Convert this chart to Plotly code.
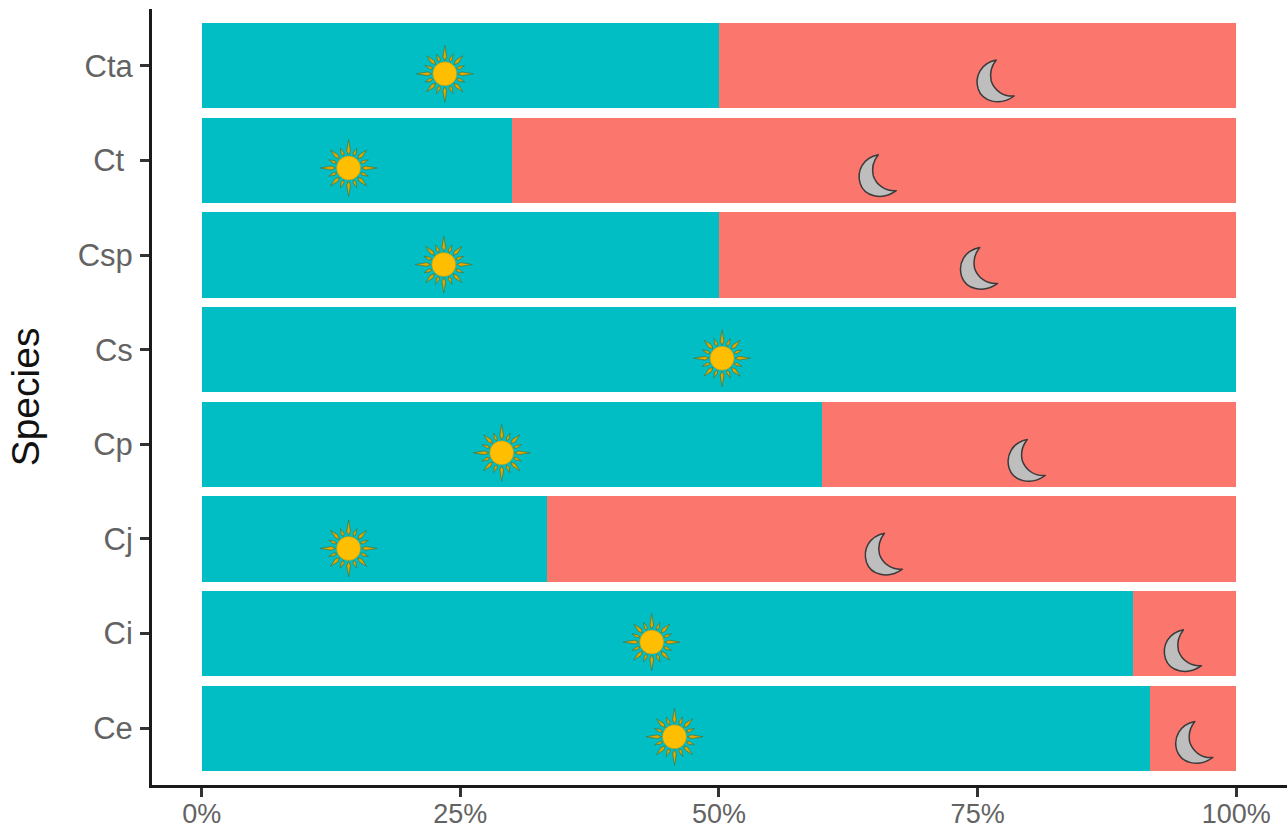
import base64, math
import plotly.graph_objects as go

species = ["Ce", "Ci", "Cj", "Cp", "Cs", "Csp", "Ct\u00a0", "Cta"]
day_pct = [91.67, 90, 33.33, 60, 100, 50, 30, 50]
night_pct = [8.33, 10, 66.67, 40, 0, 50, 70, 50]
sun_x = [45.7, 43.5, 14.2, 29, 50.3, 23.4, 14.2, 23.5]
sun_y = [-0.09, 0.91, 1.90, 2.91, 3.91, 4.90, 5.92, 6.915]
moon_x = [95.8, 94.7, 65.8, 79.6, 75, 65.2, 76.6]
moon_y = [-0.13, 0.84, 1.86, 2.85, 4.88, 5.86, 6.86]
x_ticks = [0, 25, 50, 75, 100]

TEAL = "#00BEC4"
CORAL = "#FB766D"
BLUR = '<defs><filter id="b"><feGaussianBlur stdDeviation="0.45"/></filter></defs>'


def sun_svg():
    parts = []
    for i in range(16):
        a = math.radians(i * 22.5)
        r = 28.5 if i % 4 == 0 else (25.5 if i % 4 == 2 else 21.5)
        w = 1.9 if i % 2 == 0 else 1.5
        r0, rm = 13, (15.5 if i % 2 else 17)
        c, s = math.cos(a), math.sin(a)
        pts = [(30 + r0 * c, 30 + r0 * s),
               (30 + rm * c - w * s, 30 + rm * s + w * c),
               (30 + r * c, 30 + r * s),
               (30 + rm * c + w * s, 30 + rm * s - w * c)]
        parts.append('<polygon points="%s" fill="#E0A800" stroke="#3F6B3A" stroke-width="0.6"/>'
                     % " ".join("%.2f,%.2f" % p for p in pts))
    parts.append('<circle cx="30" cy="30" r="12" fill="#FFBF00" stroke="#B08A10" stroke-width="0.5"/>')
    return ('<svg xmlns="http://www.w3.org/2000/svg" width="240" height="240" viewBox="0 0 60 60">'
            + BLUR + '<g filter="url(#b)">' + "".join(parts) + "</g></svg>")


def moon_svg():
    d = ("M 27 6 C 12 9 5 22 9 35 C 13 47 30 53 45 42 "
         "C 34 43 25 36 22 27 C 20 18 23 11 27 6 Z")
    return ('<svg xmlns="http://www.w3.org/2000/svg" width="200" height="200" viewBox="0 0 50 50">'
            + BLUR + '<path filter="url(#b)" d="%s" fill="#BEBEBE" stroke="#3A3A3A" stroke-width="1.5" '
            'stroke-linejoin="round"/></svg>' % d)


def uri(svg):
    return "data:image/svg+xml;base64," + base64.b64encode(svg.encode()).decode()


SUN, MOON = uri(sun_svg()), uri(moon_svg())
PX_X, PX_Y = 10.345, 94.7

fig = go.Figure()
fig.add_bar(y=species, x=day_pct, orientation="h", marker=dict(color=TEAL, line_width=0), name="Day")
fig.add_bar(y=species, x=night_pct, orientation="h", marker=dict(color=CORAL, line_width=0), name="Night")

images = []
for x, y in zip(sun_x, sun_y):
    images.append(dict(source=SUN, xref="x", yref="y", x=x, y=y, sizex=60 / PX_X, sizey=60 / PX_Y,
                       xanchor="center", yanchor="middle", sizing="stretch", layer="above"))
for x, y in zip(moon_x, moon_y):
    images.append(dict(source=MOON, xref="x", yref="y", x=x, y=y, sizex=50 / PX_X, sizey=50 / PX_Y,
                       xanchor="center", yanchor="middle", sizing="stretch", layer="above"))

fig.update_layout(
    width=1287, height=830, barmode="stack", bargap=0.1, showlegend=False,
    plot_bgcolor="white", paper_bgcolor="white",
    margin=dict(l=152, r=0, t=9, b=45, autoexpand=False),
    font=dict(family="Liberation Sans, Arial, sans-serif"),
    images=images,
    xaxis=dict(range=[-4.8, 104.9], tickvals=x_ticks, ticktext=["%d%%" % v for v in x_ticks],
               showgrid=False, zeroline=False, showline=True, linecolor="#1A1A1A", linewidth=3,
               ticks="outside", ticklen=9, tickwidth=2.5, tickcolor="#333333", ticklabelstandoff=-6,
               tickfont=dict(size=27, color="#636363")),
    yaxis=dict(type="category", categoryorder="array", categoryarray=species, range=[-0.6, 7.6],
               showgrid=False, zeroline=False, showline=True, linecolor="#1A1A1A", linewidth=3,
               ticks="outside", ticklen=9, tickwidth=2.5, tickcolor="#333333", ticklabelstandoff=1,
               tickfont=dict(size=31, color="#636363"),
               title=dict(text="Species", font=dict(size=39, color="#111111"), standoff=27)),
)
fig.write_html("out.html", config={"displayModeBar": False},
               post_script="document.body.style.margin='0';document.documentElement.style.overflow='hidden';")
